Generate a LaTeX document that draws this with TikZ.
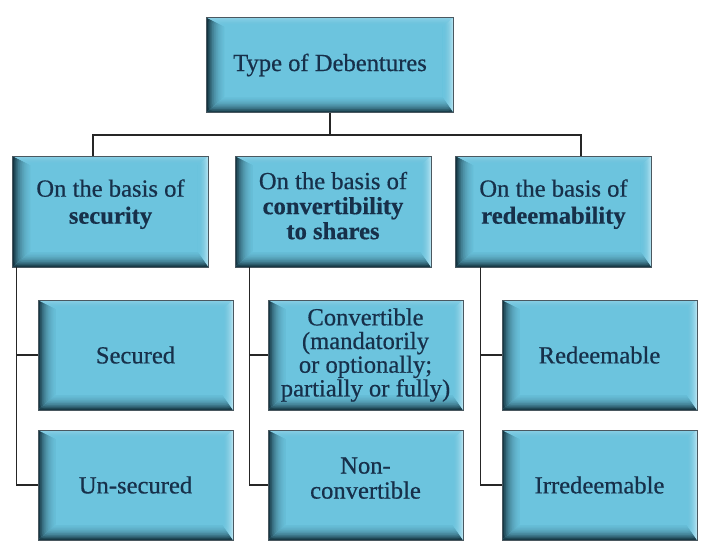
\documentclass[tikz,border=0pt]{standalone}
\usepackage{fontspec}
\setmainfont{Liberation Serif}[FakeBold=0.6]
\usetikzlibrary{calc}

\definecolor{boxbase}{HTML}{6CC4DE}
\definecolor{boxdark}{HTML}{12303C}
\definecolor{boxlight}{HTML}{B8E4F2}
\definecolor{boxtop}{HTML}{8FD2E7}
\definecolor{boxedge}{HTML}{4A5860}
\definecolor{ink}{HTML}{17304A}
\definecolor{wire}{HTML}{262626}

% Bevelled relief drawn inside every box, softened by stacked washes
\newcommand\bevelfill{%
  \path (path picture bounding box.south west) coordinate (pSW)
        (path picture bounding box.south east) coordinate (pSE)
        (path picture bounding box.north east) coordinate (pNE)
        (path picture bounding box.north west) coordinate (pNW);
  \shade[top color=boxbase, bottom color=boxdark]
    (pSW) -- (pSE) -- ($(pSE)+(-11pt,16pt)$) -- ($(pSW)+(18pt,16pt)$) -- cycle;
  \shade[left color=boxdark, right color=boxbase]
    (pSW) -- (pNW) -- ($(pNW)+(18pt,-9pt)$) -- ($(pSW)+(18pt,16pt)$) -- cycle;
  \shade[top color=boxtop, bottom color=boxbase]
    (pNW) -- (pNE) -- ($(pNE)+(-11pt,-9pt)$) -- ($(pNW)+(18pt,-9pt)$) -- cycle;
  \shade[left color=boxbase, right color=boxlight]
    (pNE) -- (pSE) -- ($(pSE)+(-11pt,16pt)$) -- ($(pNE)+(-11pt,-9pt)$) -- cycle;
  \foreach \k in {1,...,10} {
    \fill[boxbase, opacity=0.13, rounded corners=4pt]
      ($(pSW)+({1.9pt*\k},{1.7pt*\k})$) rectangle ($(pNE)+({-1.1pt*\k},{-0.9pt*\k})$);
  }
}

% extra depth below the last line lifts a text block inside its box
\newcommand\liftby[1]{\rule[-#1]{0pt}{#1}}

\tikzset{
  bevelbox/.style={draw=boxedge, line width=0.8pt, fill=boxbase,
    path picture={\bevelfill}, inner sep=0pt, align=center, text=ink,
    font=\fontsize{24.6}{27}\selectfont},
  headbox/.style={bevelbox, minimum width=247pt, minimum height=95pt},
  groupbox/.style={bevelbox, minimum width=196pt, minimum height=111pt},
  leafbox/.style={bevelbox, minimum width=195pt, minimum height=110pt},
  wire/.style={draw=wire, line width=1.2pt},
}

\begin{document}
\begin{tikzpicture}[x=1pt, y=-1pt]
  \useasboundingbox[fill=white] (0,0) rectangle (708,552);

  % root
  \node[headbox] (root) at (330,65) {Type of Debentures};

  % classification criteria
  \node[groupbox] (sec0) at (110.5,211.5)
    {On the basis of\\\textbf{security}\liftby{20pt}};
  \node[groupbox, font=\fontsize{24.6}{25}\selectfont] (conv0) at (333,211.5)
    {On the basis of\\\textbf{convertibility}\\\textbf{to shares}\liftby{12pt}};
  \node[groupbox] (red0) at (553.5,211.5)
    {On the basis of\\\textbf{redeemability}\liftby{20pt}};

  % kinds
  \node[leafbox] (secA) at (135.5,355) {Secured};
  \node[leafbox] (secB) at (135.5,485) {Un-secured};
  \node[leafbox, font=\fontsize{24.6}{23.7}\selectfont] (convA) at (365.5,355)
    {Convertible\\(mandatorily\\or optionally;\\partially or fully)};
  \node[leafbox, font=\fontsize{24.6}{25}\selectfont] (convB) at (365.5,485)
    {Non-\\convertible\liftby{14pt}};
  \node[leafbox] (redA) at (599.5,355) {Redeemable};
  \node[leafbox] (redB) at (599.5,485) {Irredeemable};

  % root to criteria
  \coordinate (bus) at (330,135);
  \draw[wire] (root.south) -- (root.south |- bus);
  \draw[wire] ([xshift=-17.5pt]sec0.north) |- (bus) -| ([xshift=27.5pt]red0.north);

  % criteria to kinds
  \draw[wire] ([xshift=4.5pt]sec0.south west) |- (secA.west);
  \draw[wire] ([xshift=4.5pt]sec0.south west) |- (secB.west);
  \draw[wire] ([xshift=15pt]conv0.south west) |- (convA.west);
  \draw[wire] ([xshift=15pt]conv0.south west) |- (convB.west);
  \draw[wire] ([xshift=25.5pt]red0.south west) |- (redA.west);
  \draw[wire] ([xshift=25.5pt]red0.south west) |- (redB.west);
\end{tikzpicture}
\end{document}
